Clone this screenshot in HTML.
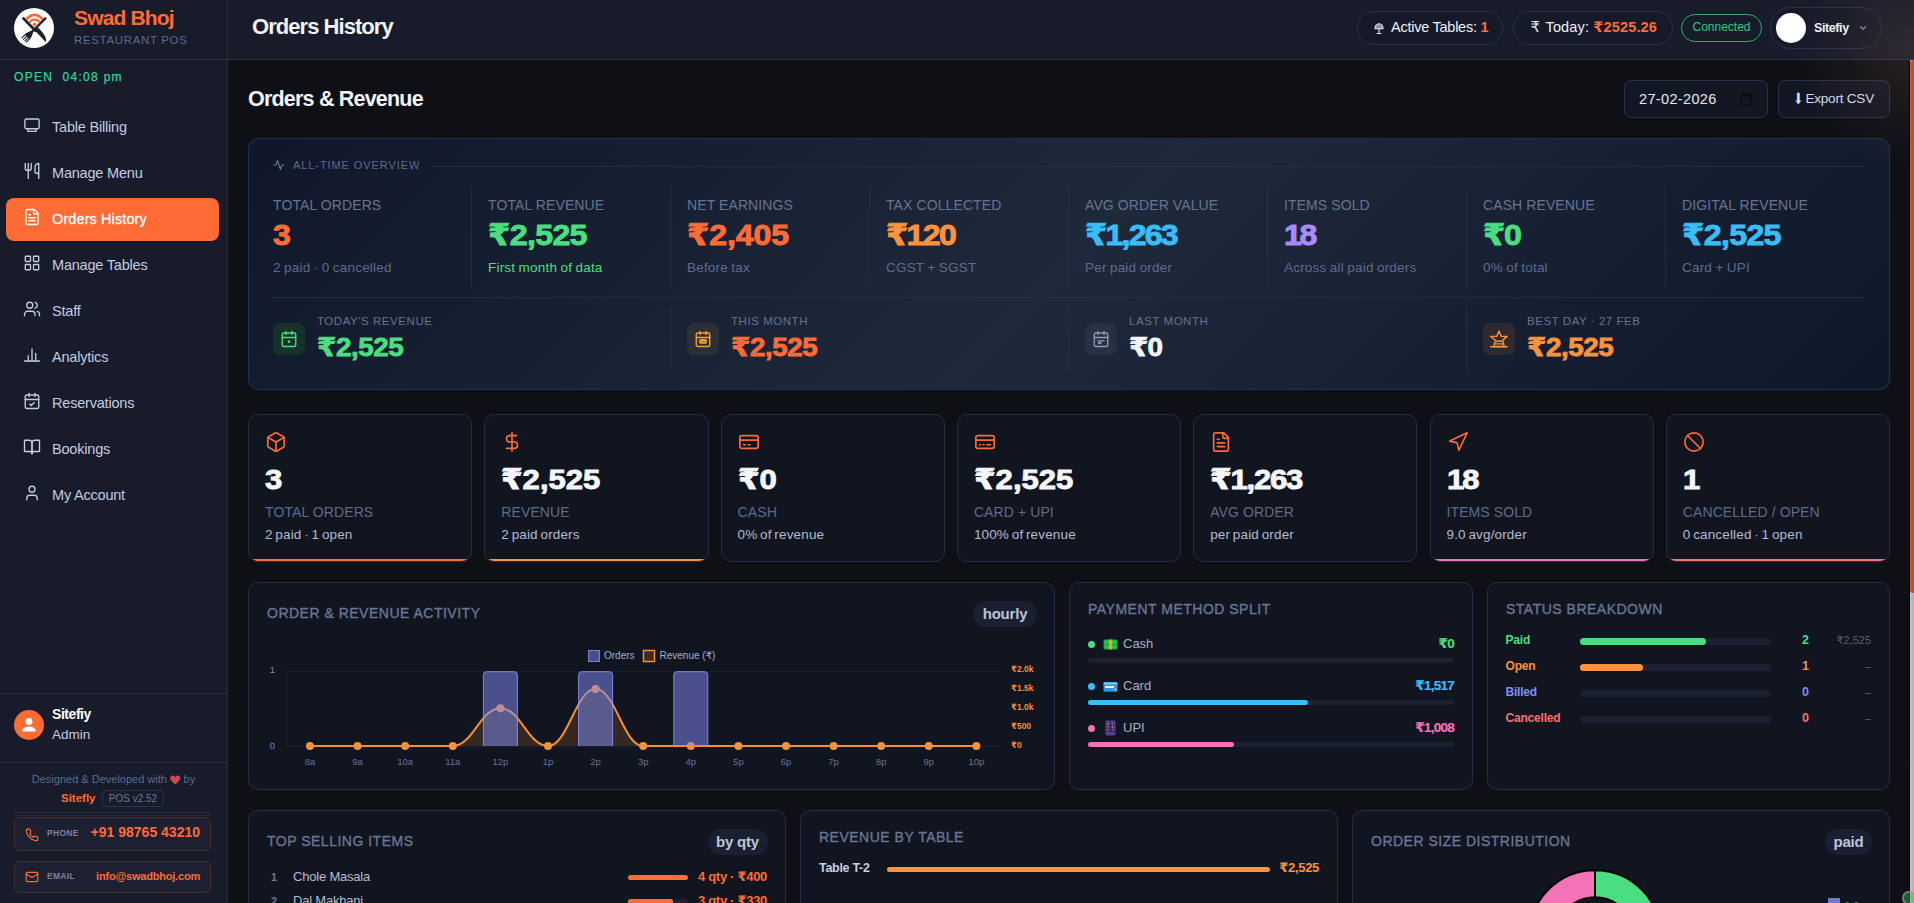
<!DOCTYPE html>
<html lang="en">
<head>
<meta charset="utf-8">
<title>Swad Bhoj - Orders History</title>
<style>
*{box-sizing:border-box;margin:0;padding:0}
html,body{width:1914px;height:903px;overflow:hidden;background:#0e1016}
body{font-family:"Liberation Sans","DejaVu Sans",sans-serif;color:#e8ecf6;position:relative;-webkit-font-smoothing:antialiased}
.abs{position:absolute}
svg{display:block}
/* ---------- sidebar ---------- */
#side{position:absolute;left:0;top:0;width:228px;height:903px;background:#171b2a;border-right:1px solid #262d45}
#brand{position:absolute;left:0;top:0;width:227px;height:60px;border-bottom:1px solid #262d45}
#logo{position:absolute;left:14px;top:7.7px;width:40px;height:40px;border-radius:50%;background:#fff}
#bname{position:absolute;left:74px;top:6px;font-size:21px;font-weight:700;color:#ff6b35;letter-spacing:-.85px;white-space:nowrap;line-height:24px}
#bsub{position:absolute;left:74px;top:33px;font-size:11.5px;color:#5f6b8c;letter-spacing:.65px;white-space:nowrap;line-height:14px}
#open{position:absolute;left:14px;top:70px;font-size:12px;color:#34d399;letter-spacing:1.3px;-webkit-text-stroke:.25px #34d399;white-space:nowrap;line-height:14px}
.nav{position:absolute;left:6px;width:213px;height:43px;border-radius:8px;color:#c5cbe0;font-size:14.5px;line-height:43px;white-space:nowrap;letter-spacing:-.2px}
.nav span{position:absolute;left:46px;top:0}
.nav svg{position:absolute;left:17px;top:10px;width:18px;height:18px;fill:none;stroke:#c5cbe0;stroke-width:1.8;stroke-linecap:round;stroke-linejoin:round}
.nav.on{background:#ff6b35;color:#fff;-webkit-text-stroke:.3px #fff;letter-spacing:.1px}
.nav.on svg{stroke:#fff}
#userbox{position:absolute;left:0;top:693px;width:227px;height:70px;border-top:1px solid #262d45;border-bottom:1px solid #262d45}
#uav{position:absolute;left:14px;top:16px;width:30px;height:30px;border-radius:50%;background:#ff6b35}
#uname{position:absolute;left:52px;top:11px;font-size:14px;font-weight:700;color:#fff;line-height:18px;letter-spacing:-.45px}
#urole{position:absolute;left:52px;top:32px;font-size:13.5px;color:#c5cbe0;line-height:18px}
#credit{position:absolute;left:0;top:772px;width:227px;text-align:center;font-size:11px;color:#5f6b8c;line-height:14px;white-space:nowrap}
#credit2{position:absolute;left:61px;top:790px;font-size:11.5px;font-weight:700;color:#ff6b35;line-height:16px}
#ver{position:absolute;left:102px;top:790px;width:62px;height:17px;border:1px solid #2b3350;border-radius:4px;font-size:10px;color:#6b7799;text-align:center;line-height:15px}
#cline{position:absolute;left:14px;top:812px;width:197px;height:1px;background:#262d45}
.cbox{position:absolute;left:14px;width:197px;height:32px;border:1px solid #4a2f2c;border-radius:6px;background:#1d2030}
.cbox svg{position:absolute;left:10px;top:10px;width:14px;height:14px;fill:none;stroke:#ff6b35;stroke-width:2;stroke-linecap:round;stroke-linejoin:round}
.cbox .k{position:absolute;left:32px;top:0;font-size:8.5px;font-weight:700;color:#7a849f;letter-spacing:.3px;line-height:30px}
.cbox .v{position:absolute;right:10px;top:0;font-weight:700;color:#ff6b35;line-height:30px;white-space:nowrap}
/* ---------- header ---------- */
#head{position:absolute;left:228px;top:0;width:1686px;height:60px;background:#171b2a;border-bottom:1px solid #262d45}
#htitle{position:absolute;left:24px;top:13px;font-size:22px;font-weight:700;color:#f1f4fb;letter-spacing:-.95px;line-height:28px;white-space:nowrap}
.pill{position:absolute;border:1px solid #2a3149;border-radius:20px;background:#161a28;white-space:nowrap}

/* ---------- header pills ---------- */
.pill .t{position:absolute;top:0;font-size:14.5px;color:#eef1f8;line-height:30px}
.pill b{color:#ff6b35}
#conn{position:absolute;left:1453px;top:14px;width:81px;height:28px;border:1.5px solid #2fa968;border-radius:14px;color:#34c77b;font-size:12px;text-align:center;line-height:25px}
/* ---------- main ---------- */
#ptitle{position:absolute;left:248px;top:85.700px;font-size:21.500px;font-weight:700;color:#f1f4fb;letter-spacing:-.8px;line-height:26px;white-space:nowrap}
.btn{position:absolute;top:80px;height:38px;border:1px solid #2a3149;border-radius:7px;background:#131724;color:#d5daea;font-size:13px;line-height:36px;white-space:nowrap}
.panel{position:absolute;background:#111520;border:1px solid #262d46;border-radius:10px}
#ov{left:248px;top:138px;width:1642px;height:252px;background:linear-gradient(135deg,#10172a 0%,#1e293b 50%,#0f172a 100%);border-color:#26304b}
.lbl{position:absolute;font-size:14px;letter-spacing:.1px;color:#68748f;white-space:nowrap;line-height:16px}
.val{position:absolute;font-size:30px;font-weight:700;white-space:nowrap;line-height:34px;letter-spacing:-.6px;-webkit-text-stroke:.9px currentColor;transform:scaleX(1.07);transform-origin:0 0}
.sub{position:absolute;font-size:13.5px;color:#5f6b8a;white-space:nowrap;line-height:16px;letter-spacing:.2px;word-spacing:-.6px;margin-top:1px}
.vd{position:absolute;width:1px;background:#242d47}
.ib{position:absolute;width:32px;height:32px;border-radius:7px}
.ib svg{position:absolute;left:7px;top:7px;width:18px;height:18px;fill:none;stroke-width:1.8;stroke-linecap:round;stroke-linejoin:round}
.l2{position:absolute;font-size:11.5px;letter-spacing:.55px;color:#68748f;white-space:nowrap;line-height:14px}
.v2{position:absolute;font-size:26px;font-weight:700;white-space:nowrap;line-height:30px;letter-spacing:-.4px;-webkit-text-stroke:.8px currentColor;transform:scaleX(1.07);transform-origin:0 0}
.card{top:414px;width:224.3px;height:148px;overflow:hidden}
.card svg{position:absolute;left:16px;top:16px;width:22px;height:22px;fill:none;stroke:#ff6b35;stroke-width:1.8;stroke-linecap:round;stroke-linejoin:round}
.card .cv{position:absolute;left:16px;top:47px;font-size:28.5px;font-weight:700;color:#f4f6fb;line-height:34px;letter-spacing:0;white-space:nowrap;-webkit-text-stroke:.9px currentColor;transform:scaleX(1.09);transform-origin:0 0}
.card .cl{position:absolute;left:16px;top:89px;font-size:14px;letter-spacing:.1px;color:#5f6b8a;line-height:16px;white-space:nowrap}
.card .cs{position:absolute;left:16px;top:112px;font-size:13.5px;color:#b4bbd0;line-height:16px;white-space:nowrap;letter-spacing:.15px;word-spacing:-1.2px}
.card i{position:absolute;left:0;bottom:0;width:100%;height:2px}
.ttl{position:absolute;font-size:14px;font-weight:400;-webkit-text-stroke:.35px currentColor;letter-spacing:.5px;color:#6a7695;white-space:nowrap;line-height:18px}
.badge{position:absolute;height:26px;border-radius:13px;background:#1a2032;color:#bcc4d9;font-size:15px;font-weight:700;text-align:center;line-height:25px;letter-spacing:-.2px}

/* ---------- row 3/4 ---------- */
.ax{font-family:"Liberation Sans","DejaVu Sans",sans-serif;font-size:9.5px;fill:#6f79a8}
.pm{position:absolute;left:18px;width:366px;height:20px;margin-top:1px}
.pm .dot{position:absolute;left:0;top:6px;width:7px;height:7px;border-radius:50%}
.pm .nm{position:absolute;left:35px;top:0;font-size:13px;color:#a7afc6;line-height:18px}
.pm .am{position:absolute;right:0;top:0;font-size:13.5px;font-weight:700;line-height:18px;letter-spacing:-.75px;-webkit-text-stroke:.2px currentColor}
.trk{position:absolute;left:18px;width:366px;height:5px;border-radius:2.5px;background:#1b2032;margin-top:-.5px}
.trk i{position:absolute;left:0;top:0;height:5px;border-radius:2.5px}
.st{position:absolute;left:17.500px;width:365.500px;height:16px;font-size:12px;font-weight:700;line-height:16px}
.st .n{position:absolute;left:0;top:0;letter-spacing:-.2px}
.st .tk{position:absolute;left:74px;top:6px;width:191px;height:7px;border-radius:3.500px;background:#1b2032}
.st .tk i{position:absolute;left:0;top:0;height:7px;border-radius:3.500px}
.st .c{position:absolute;right:62px;top:0;font-size:12.500px}
.st .a{position:absolute;right:0;top:0;font-size:11px;font-weight:400;color:#545f7d}
</style>
</head>
<body>
<!-- SIDEBAR -->
<div id="side">
  <div id="brand">
    <div id="logo"><svg viewBox="0 0 40 40" width="40" height="40">
      <g fill="none" stroke="#ff6b35" stroke-linecap="butt"><path d="M12.400 11.200Q20.600 2.400 28.800 11.200" stroke-width="2.800"/><path d="M15.500 14.200Q20.600 8.800 25.700 14.200" stroke-width="2.600"/></g>
      <circle cx="20.600" cy="16.300" r="1.900" fill="#ff6b35"/>
      <g stroke="#1d2029" stroke-linecap="round" fill="none"><path d="M31.400 10.400 17.500 24.200" stroke-width="2.300"/><path d="M9.400 10.400 21.500 22.800" stroke-width="2.700"/></g>
      <path d="M19.600 21.200 31.900 34.300C32.800 30 30.300 25.300 23.300 19z" fill="#1d2029"/>
      <path d="M17.600 22.800 19 24.300C18.300 28 16.700 30.400 15.700 31.400L10.600 26.500C12 25.300 14.500 23.800 17.600 22.800z" fill="#1d2029"/>
      <g stroke="#1d2029" stroke-width="1.100" stroke-linecap="round"><path d="M10.900 26.900 7.800 29.900M12.500 28.400 9.400 31.400M14 29.900 10.900 32.900M15.300 31.100 12.200 34.100"/></g>
    </svg></div>
    <div id="bname">Swad Bhoj</div>
    <div id="bsub">RESTAURANT POS</div>
  </div>
  <div id="open">OPEN&nbsp; 04:08 pm</div>
  <div class="nav" style="top:106px"><svg viewBox="0 0 24 24"><rect x="2.5" y="4" width="19" height="13" rx="2"/><path d="M6.5 17v3.5h11V17"/></svg><span>Table Billing</span></div>
  <div class="nav" style="top:152px"><svg viewBox="0 0 24 24"><path d="M3 2v7c0 1.1.9 2 2 2h4a2 2 0 0 0 2-2V2"/><path d="M7 2v20"/><path d="M21 15V2a5 5 0 0 0-5 5v6c0 1.1.9 2 2 2h3Zm0 0v7"/></svg><span>Manage Menu</span></div>
  <div class="nav on" style="top:198px"><svg viewBox="0 0 24 24"><path d="M15 2H6a2 2 0 0 0-2 2v16a2 2 0 0 0 2 2h12a2 2 0 0 0 2-2V7Z"/><path d="M14 2v4a2 2 0 0 0 2 2h4"/><path d="M10 9H8"/><path d="M16 13H8"/><path d="M16 17H8"/></svg><span>Orders History</span></div>
  <div class="nav" style="top:244px"><svg viewBox="0 0 24 24"><rect width="7" height="7" x="3" y="3" rx="1"/><rect width="7" height="7" x="14" y="3" rx="1"/><rect width="7" height="7" x="14" y="14" rx="1"/><rect width="7" height="7" x="3" y="14" rx="1"/></svg><span>Manage Tables</span></div>
  <div class="nav" style="top:290px"><svg viewBox="0 0 24 24"><path d="M16 21v-2a4 4 0 0 0-4-4H6a4 4 0 0 0-4 4v2"/><circle cx="9" cy="7" r="4"/><path d="M22 21v-2a4 4 0 0 0-3-3.87"/><path d="M16 3.13a4 4 0 0 1 0 7.75"/></svg><span>Staff</span></div>
  <div class="nav" style="top:336px"><svg viewBox="0 0 24 24"><path d="M2 20h20"/><path d="M7 20v-7"/><path d="M12 20V4"/><path d="M17 20v-10"/></svg><span>Analytics</span></div>
  <div class="nav" style="top:382px"><svg viewBox="0 0 24 24"><path d="M8 2v4"/><path d="M16 2v4"/><rect width="18" height="18" x="3" y="4" rx="2"/><path d="M3 10h18"/><path d="m9 16 2 2 4-4"/></svg><span>Reservations</span></div>
  <div class="nav" style="top:428px"><svg viewBox="0 0 24 24"><path d="M2 3h6a4 4 0 0 1 4 4v14a3 3 0 0 0-3-3H2z"/><path d="M22 3h-6a4 4 0 0 0-4 4v14a3 3 0 0 1 3-3h7z"/></svg><span>Bookings</span></div>
  <div class="nav" style="top:474px"><svg viewBox="0 0 24 24"><path d="M19 21v-2a4 4 0 0 0-4-4H9a4 4 0 0 0-4 4v2"/><circle cx="12" cy="7" r="4"/></svg><span>My Account</span></div>
  <div id="userbox">
    <div id="uav"><svg viewBox="0 0 30 30" width="30" height="30"><circle cx="15" cy="11.5" r="3.4" fill="#fff"/><path d="M8.3 21.5c0-3.2 3-5 6.7-5s6.7 1.8 6.7 5z" fill="#fff"/></svg></div>
    <div id="uname">Sitefiy</div>
    <div id="urole">Admin</div>
  </div>
  <div id="credit">Designed &amp; Developed with <svg viewBox="0 0 24 24" width="12.500" height="12" style="display:inline-block;vertical-align:-2.500px;margin:0 -1px"><path d="M12 21C5 15 2 11.5 2 7.8 2 5 4.2 3 6.8 3 9 3 10.8 4.2 12 6c1.200-1.800 3-3 5.200-3C19.800 3 22 5 22 7.800c0 3.700-3 7.200-10 13.200z" fill="#cf4a50"/></svg> by</div>
  <div id="credit2">Sitefly</div>
  <div id="ver">POS v2.52</div>
  <div id="cline"></div>
  <div class="abs" style="left:14px;top:815px;width:197px;height:1px;background:#262c42"></div>
  <div class="cbox" style="top:816.500px;height:34.500px"><svg viewBox="0 0 24 24"><path d="M22 16.920v3a2 2 0 0 1-2.180 2 19.790 19.790 0 0 1-8.630-3.070 19.500 19.500 0 0 1-6-6 19.790 19.790 0 0 1-3.070-8.670A2 2 0 0 1 4.110 2h3a2 2 0 0 1 2 1.720c.127.960.361 1.903.700 2.810a2 2 0 0 1-.450 2.110L8.090 9.910a16 16 0 0 0 6 6l1.270-1.270a2 2 0 0 1 2.110-.450c.907.339 1.850.573 2.810.700A2 2 0 0 1 22 16.920z"/></svg><span class="k">PHONE</span><span class="v" style="font-size:14px;top:-1px">+91 98765 43210</span></div>
  <div class="cbox" style="top:861px"><svg viewBox="0 0 24 24" style="top:8px"><rect x="2" y="4" width="20" height="16" rx="2"/><path d="m22 7-10 6L2 7"/></svg><span class="k" style="top:-1px">EMAIL</span><span class="v" style="font-size:11px;letter-spacing:-.2px;top:-1px">info@swadbhoj.com</span></div>
</div>
<!-- HEADER -->
<div id="head">
  <div id="htitle">Orders History</div>
  <div class="pill" style="left:1129px;top:11px;width:146px;height:34px">
    <svg class="abs" style="left:15.500px;top:9.500px" width="10" height="12.500" viewBox="0 0 20 25" fill="none" stroke="#e6e9f2" stroke-width="2.300" stroke-linecap="round" stroke-linejoin="round"><path d="M2 13.500A8 10 0 0 1 18 13.500Z" fill="#8e93a3"/><path d="M10 14v7.500M6 23h8"/></svg>
    <span class="t" style="left:33px;letter-spacing:-.25px">Active Tables: <b>1</b></span>
  </div>
  <div class="pill" style="left:1285px;top:11px;width:160px;height:34px">
    <span class="t" style="left:16.500px;top:0;font-size:15px;color:#dfe3ee">₹</span>
    <span class="t" style="left:31.500px;letter-spacing:.15px">Today: <b>₹2525.26</b></span>
  </div>
  <div id="conn">Connected</div>
  <div class="pill" style="left:1542px;top:7px;width:112px;height:42px;border-radius:21px">
    <div class="abs" style="left:5px;top:5px;width:30px;height:30px;border-radius:50%;background:#fff"></div>
    <span class="abs" style="left:43px;top:0;font-size:12.5px;font-weight:700;color:#eef1f8;line-height:40px;letter-spacing:-.4px">Sitefiy</span>
    <svg class="abs" style="left:87px;top:15px" width="10" height="10" viewBox="0 0 24 24" fill="none" stroke="#7d87a3" stroke-width="3" stroke-linecap="round" stroke-linejoin="round"><path d="m6 9 6 6 6-6"/></svg>
  </div>
</div>
<!-- MAIN -->
<div id="main">
<div id="ptitle">Orders &amp; Revenue</div>
<div class="btn" style="left:1624px;width:144px"><span class="abs" style="left:14px;top:0;font-size:14.5px;letter-spacing:.35px;color:#e3e7f2">27-02-2026</span>
  <svg class="abs" style="left:115px;top:12px" width="12" height="13" viewBox="0 0 12 13"><rect x="0.5" y="1.5" width="11" height="11" rx="1.5" fill="#0b0d13" stroke="#0b0d13"/><rect x="1.500" y="4" width="9" height="7.500" fill="#131724"/><rect x="2.500" y="0" width="1.500" height="3" fill="#0b0d13"/><rect x="8" y="0" width="1.500" height="3" fill="#0b0d13"/></svg></div>
<div class="btn" style="left:1778px;width:112px;text-align:center;font-size:13.5px;letter-spacing:-.2px"><span style="font-size:15.500px;display:inline-block;transform:scaleX(.72);margin:0 -3px 0 -2px;vertical-align:-1px;line-height:1">⬇</span> Export CSV</div>
<div class="panel" id="ov">
<svg class="abs" style="left:24px;top:20px" width="12" height="12" viewBox="0 0 24 24" fill="none" stroke="#68748f" stroke-width="2.4" stroke-linecap="round" stroke-linejoin="round"><path d="M22 12h-4l-3 9L9 3l-3 9H2"/></svg>
<div class="abs" style="left:44px;top:19px;font-size:11px;letter-spacing:.92px;color:#5f6b8a;line-height:14px;white-space:nowrap">ALL-TIME OVERVIEW</div>
<div class="abs" style="left:182px;top:27px;width:1434px;height:1px;background:#242d47"></div>
<div class="lbl" style="left:24px;top:58px">TOTAL ORDERS</div>
<div class="val" style="left:24px;top:79px;color:#ff6b35">3</div>
<div class="sub" style="left:24px;top:120px">2 paid · 0 cancelled</div>
<div class="vd" style="left:222px;top:48px;height:100px"></div>
<div class="lbl" style="left:239px;top:58px">TOTAL REVENUE</div>
<div class="val" style="left:239px;top:79px;color:#4ade80">₹2,525</div>
<div class="sub" style="left:239px;top:120px;color:#4ade80">First month of data</div>
<div class="vd" style="left:421px;top:48px;height:100px"></div>
<div class="lbl" style="left:438px;top:58px">NET EARNINGS</div>
<div class="val" style="left:438px;top:79px;color:#ff6b35;letter-spacing:-.1px">₹2,405</div>
<div class="sub" style="left:438px;top:120px">Before tax</div>
<div class="vd" style="left:620px;top:48px;height:100px"></div>
<div class="lbl" style="left:637px;top:58px">TAX COLLECTED</div>
<div class="val" style="left:637px;top:79px;color:#fb923c;letter-spacing:-1.6px">₹120</div>
<div class="sub" style="left:637px;top:120px">CGST + SGST</div>
<div class="vd" style="left:819px;top:48px;height:100px"></div>
<div class="lbl" style="left:836px;top:58px">AVG ORDER VALUE</div>
<div class="val" style="left:836px;top:79px;color:#38bdf8;letter-spacing:-1.7px">₹1,263</div>
<div class="sub" style="left:836px;top:120px">Per paid order</div>
<div class="vd" style="left:1018px;top:48px;height:100px"></div>
<div class="lbl" style="left:1035px;top:58px">ITEMS SOLD</div>
<div class="val" style="left:1035px;top:79px;color:#a78bfa;letter-spacing:-2.2px">18</div>
<div class="sub" style="left:1035px;top:120px">Across all paid orders</div>
<div class="vd" style="left:1217px;top:48px;height:100px"></div>
<div class="lbl" style="left:1234px;top:58px">CASH REVENUE</div>
<div class="val" style="left:1234px;top:79px;color:#4ade80;letter-spacing:-1.2px">₹0</div>
<div class="sub" style="left:1234px;top:120px">0% of total</div>
<div class="vd" style="left:1416px;top:48px;height:100px"></div>
<div class="lbl" style="left:1433px;top:58px">DIGITAL REVENUE</div>
<div class="val" style="left:1433px;top:79px;color:#38bdf8">₹2,525</div>
<div class="sub" style="left:1433px;top:120px">Card + UPI</div>
<div class="abs" style="left:24px;top:158px;width:1592px;height:1px;background:#242d47"></div>
<div class="ib" style="left:24px;top:184px;background:#173229"><svg viewBox="0 0 24 24" stroke="#4ade80"><path d="M8 2v4"/><path d="M16 2v4"/><rect width="18" height="18" x="3" y="4" rx="2"/><path d="M3 10h18"/><circle cx="12" cy="15.500" r=".8" fill="#4ade80"/></svg></div>
<div class="l2" style="left:68px;top:175px">TODAY'S REVENUE</div>
<div class="v2" style="left:68px;top:193px;color:#4ade80">₹2,525</div>
<div class="vd" style="left:421px;top:167px;height:66px"></div>
<div class="ib" style="left:438px;top:184px;background:#2e2f36"><svg viewBox="0 0 24 24" stroke="#f5a524"><path d="M8 2v4"/><path d="M16 2v4"/><rect width="18" height="18" x="3" y="4" rx="2"/><path d="M3 10h18"/><rect x="7.500" y="13" width="9" height="4.500" rx="2" fill="#c98a1e"/></svg></div>
<div class="l2" style="left:482px;top:175px">THIS MONTH</div>
<div class="v2" style="left:482px;top:193px;color:#ff6b35">₹2,525</div>
<div class="vd" style="left:819px;top:167px;height:66px"></div>
<div class="ib" style="left:836px;top:184px;background:#283144"><svg viewBox="0 0 24 24" stroke="#8d9ab8"><path d="M8 2v4"/><path d="M16 2v4"/><rect width="18" height="18" x="3" y="4" rx="2"/><path d="M3 10h18"/><path d="M8 14.500h8"/><path d="M8 17.300h4.500" stroke-width="2.600" stroke-linecap="butt"/></svg></div>
<div class="l2" style="left:880px;top:175px">LAST MONTH</div>
<div class="v2" style="left:880px;top:193px;color:#f1f4fb;letter-spacing:-.9px">₹0</div>
<div class="vd" style="left:1217px;top:167px;height:66px"></div>
<div class="ib" style="left:1234px;top:184px;background:#2e2a2f"><svg viewBox="0 0 24 24" stroke="#fb923c"><path d="M12 1.500 15 8.500H23L17 13.500 19 22H5L7 13.500 1 8.500H9Z"/><path d="M8.200 15h7.600M7.200 18.500h9.600M1 22.300H23"/></svg></div>
<div class="l2" style="left:1278px;top:175px">BEST DAY · 27 FEB</div>
<div class="v2" style="left:1278px;top:193px;color:#fb923c">₹2,525</div>
</div>
<div class="panel card" style="left:248.00px"><svg viewBox="0 0 24 24"><path d="M21 8a2 2 0 0 0-1-1.730l-7-4a2 2 0 0 0-2 0l-7 4A2 2 0 0 0 3 8v8a2 2 0 0 0 1 1.730l7 4a2 2 0 0 0 2 0l7-4A2 2 0 0 0 21 16Z"/><path d="m3.300 7 8.700 5 8.700-5"/><path d="M12 22V12"/></svg><div class="cv">3</div><div class="cl">TOTAL ORDERS</div><div class="cs">2 paid · 1 open</div><i style="background:#ff6b35"></i></div>
<div class="panel card" style="left:484.30px"><svg viewBox="0 0 24 24"><path d="M12 2v20"/><path d="M17 5H9.500a3.500 3.500 0 0 0 0 7h5a3.500 3.500 0 0 1 0 7H6"/></svg><div class="cv">₹2,525</div><div class="cl">REVENUE</div><div class="cs">2 paid orders</div><i style="background:#fb923c"></i></div>
<div class="panel card" style="left:720.60px"><svg viewBox="0 0 24 24"><rect x="2" y="5" width="20" height="14" rx="2"/><path d="M2 10h20"/><path d="M6 15h2M11 15h2"/></svg><div class="cv">₹0</div><div class="cl">CASH</div><div class="cs">0% of revenue</div></div>
<div class="panel card" style="left:956.90px"><svg viewBox="0 0 24 24"><rect x="2" y="5" width="20" height="14" rx="2"/><path d="M2 10h20"/><path d="M6 15h1M10 15h1M14 15h4"/></svg><div class="cv">₹2,525</div><div class="cl">CARD + UPI</div><div class="cs">100% of revenue</div></div>
<div class="panel card" style="left:1193.20px"><svg viewBox="0 0 24 24"><path d="M15 2H6a2 2 0 0 0-2 2v16a2 2 0 0 0 2 2h12a2 2 0 0 0 2-2V7Z"/><path d="M14 2v4a2 2 0 0 0 2 2h4"/><path d="M10 9H8"/><path d="M16 13H8"/><path d="M16 17H8"/></svg><div class="cv" style="letter-spacing:-1.1px">₹1,263</div><div class="cl">AVG ORDER</div><div class="cs">per paid order</div></div>
<div class="panel card" style="left:1429.50px"><svg viewBox="0 0 24 24"><path d="M3 11 22 2l-9 19-2-8-8-2z"/></svg><div class="cv" style="letter-spacing:-1.8px">18</div><div class="cl">ITEMS SOLD</div><div class="cs">9.0 avg/order</div><i style="background:#f472b6"></i></div>
<div class="panel card" style="left:1665.80px"><svg viewBox="0 0 24 24"><circle cx="12" cy="12" r="10"/><path d="m4.900 4.900 14.200 14.200"/></svg><div class="cv">1</div><div class="cl">CANCELLED / OPEN</div><div class="cs">0 cancelled · 1 open</div><i style="background:#f87171"></i></div>
<div class="panel" style="left:248px;top:582px;width:807px;height:208px">
<div class="ttl" style="left:18px;top:21px">ORDER &amp; REVENUE ACTIVITY</div>
<div class="badge" style="left:724px;top:18px;width:64px">hourly</div>
<svg class="abs" style="left:0;top:0" width="805" height="206" viewBox="0 0 805 206">
<path d="M36 88.5H751M36 163.5H751M37.5 88V163" stroke="#1a1e2d" stroke-width="1" fill="none"/>
<rect x="339.500" y="67.500" width="11" height="11" fill="#494f8e" stroke="#7c80d8"/>
<text x="355" y="76" class="ax" style="fill:#a7afc6;font-size:10px">Orders</text>
<rect x="394.5" y="67.5" width="11" height="11" fill="#3a2a22" stroke="#f59139" stroke-width="1.5"/>
<text x="410.500" y="76" class="ax" style="fill:#a7afc6;font-size:10px">Revenue (₹)</text>
<text x="26" y="90" class="ax" text-anchor="end" style="fill:#7a83d6">1</text>
<text x="26" y="166" class="ax" text-anchor="end" style="fill:#7a83d6">0</text>
<text x="762" y="89.3" class="ax" style="fill:#f59139;font-weight:700;font-size:8.5px">₹2.0k</text>
<text x="762" y="108.3" class="ax" style="fill:#f59139;font-weight:700;font-size:8.5px">₹1.5k</text>
<text x="762" y="127.3" class="ax" style="fill:#f59139;font-weight:700;font-size:8.5px">₹1.0k</text>
<text x="762" y="146.3" class="ax" style="fill:#f59139;font-weight:700;font-size:8.5px">₹500</text>
<text x="762" y="165.3" class="ax" style="fill:#f59139;font-weight:700;font-size:8.5px">₹0</text>
<path d="M61.0 163.0L108.6 163.0L156.2 163.0L203.8 163.0C223.8 163.0 231.4 125.2 251.4 125.2C271.4 125.2 279.0 163.0 299.0 163.0C319.0 163.0 326.6 106.1 346.6 106.1C366.6 106.1 374.2 163.0 394.2 163.0L441.8 163.0L489.4 163.0L537.0 163.0L584.6 163.0L632.2 163.0L679.8 163.0L727.4 163.0L727.4 163L61.0 163Z" fill="#f59139" fill-opacity=".16"/>
<path d="M61.0 163.0L108.6 163.0L156.2 163.0L203.8 163.0C223.8 163.0 231.4 125.2 251.4 125.2C271.4 125.2 279.0 163.0 299.0 163.0C319.0 163.0 326.6 106.1 346.6 106.1C366.6 106.1 374.2 163.0 394.2 163.0L441.8 163.0L489.4 163.0L537.0 163.0L584.6 163.0L632.2 163.0L679.8 163.0L727.4 163.0" fill="none" stroke="#f59139" stroke-width="2"/>
<circle cx="61.0" cy="163.0" r="4" fill="#f59139"/>
<circle cx="108.6" cy="163.0" r="4" fill="#f59139"/>
<circle cx="156.2" cy="163.0" r="4" fill="#f59139"/>
<circle cx="203.8" cy="163.0" r="4" fill="#f59139"/>
<circle cx="251.4" cy="125.2" r="4" fill="#f59139"/>
<circle cx="299.0" cy="163.0" r="4" fill="#f59139"/>
<circle cx="346.6" cy="106.1" r="4" fill="#f59139"/>
<circle cx="394.2" cy="163.0" r="4" fill="#f59139"/>
<circle cx="441.8" cy="163.0" r="4" fill="#f59139"/>
<circle cx="489.4" cy="163.0" r="4" fill="#f59139"/>
<circle cx="537.0" cy="163.0" r="4" fill="#f59139"/>
<circle cx="584.6" cy="163.0" r="4" fill="#f59139"/>
<circle cx="632.2" cy="163.0" r="4" fill="#f59139"/>
<circle cx="679.8" cy="163.0" r="4" fill="#f59139"/>
<circle cx="727.4" cy="163.0" r="4" fill="#f59139"/>
<path d="M234.4 163V91.700q0 -3 3 -3h28q3 0 3 3V163" fill="rgba(129,140,248,.5)" stroke="rgba(140,148,250,.85)" stroke-width="1"/>
<path d="M329.6 163V91.700q0 -3 3 -3h28q3 0 3 3V163" fill="rgba(129,140,248,.5)" stroke="rgba(140,148,250,.85)" stroke-width="1"/>
<path d="M424.8 163V91.700q0 -3 3 -3h28q3 0 3 3V163" fill="rgba(129,140,248,.5)" stroke="rgba(140,148,250,.85)" stroke-width="1"/>
<text x="61.0" y="182" class="ax" text-anchor="middle" style="fill:#67739c">8a</text>
<text x="108.6" y="182" class="ax" text-anchor="middle" style="fill:#67739c">9a</text>
<text x="156.2" y="182" class="ax" text-anchor="middle" style="fill:#67739c">10a</text>
<text x="203.8" y="182" class="ax" text-anchor="middle" style="fill:#67739c">11a</text>
<text x="251.4" y="182" class="ax" text-anchor="middle" style="fill:#67739c">12p</text>
<text x="299.0" y="182" class="ax" text-anchor="middle" style="fill:#67739c">1p</text>
<text x="346.6" y="182" class="ax" text-anchor="middle" style="fill:#67739c">2p</text>
<text x="394.2" y="182" class="ax" text-anchor="middle" style="fill:#67739c">3p</text>
<text x="441.8" y="182" class="ax" text-anchor="middle" style="fill:#67739c">4p</text>
<text x="489.4" y="182" class="ax" text-anchor="middle" style="fill:#67739c">5p</text>
<text x="537.0" y="182" class="ax" text-anchor="middle" style="fill:#67739c">6p</text>
<text x="584.6" y="182" class="ax" text-anchor="middle" style="fill:#67739c">7p</text>
<text x="632.2" y="182" class="ax" text-anchor="middle" style="fill:#67739c">8p</text>
<text x="679.8" y="182" class="ax" text-anchor="middle" style="fill:#67739c">9p</text>
<text x="727.4" y="182" class="ax" text-anchor="middle" style="fill:#67739c">10p</text>
</svg>
</div>
<div class="panel" style="left:1069px;top:582px;width:404px;height:208px">
<div class="ttl" style="left:18px;top:17px">PAYMENT METHOD SPLIT</div>
<div class="pm" style="top:51px"><span class="dot" style="background:#4ade80"></span><svg class="abs" style="left:15px;top:3px" width="15" height="13" viewBox="0 0 15 13"><rect x="0.500" y="1.500" width="14" height="10" rx="1.200" fill="#1f9e3d"/><rect x="1.500" y="2.500" width="12" height="8" rx=".6" fill="#2fc452"/><circle cx="4" cy="6.500" r="1.500" fill="#1f9e3d"/><circle cx="11" cy="6.500" r="1.500" fill="#1f9e3d"/><rect x="6.400" y="1.500" width="2.200" height="10" fill="#f2b230"/></svg><span class="nm">Cash</span><span class="am" style="color:#4ade80">₹0</span></div>
<div class="trk" style="top:75.5px"></div>
<div class="pm" style="top:93px"><span class="dot" style="background:#38bdf8"></span><svg class="abs" style="left:15px;top:3px" width="15" height="13" viewBox="0 0 15 13"><rect x="0.500" y="2.200" width="14" height="9.500" rx="1.500" fill="#2f97dd"/><rect x="0.500" y="2.200" width="14" height="2.400" rx="1.200" fill="#7cc4f0"/><rect x="2" y="6" width="9" height="2" fill="#e4ecf3"/><rect x="11.500" y="8.800" width="1.800" height="1.500" fill="#f2d64b"/></svg><span class="nm">Card</span><span class="am" style="color:#38bdf8">₹1,517</span></div>
<div class="trk" style="top:117.5px"><i style="width:60.1%;background:#38bdf8"></i></div>
<div class="pm" style="top:135px"><span class="dot" style="background:#f472b6"></span><svg class="abs" style="left:17px;top:1px" width="11" height="16" viewBox="0 0 11 16"><rect x="0.500" y="0.500" width="10" height="15" rx="1.800" fill="#5b3f95"/><rect x="2" y="2.500" width="7" height="9.500" fill="#33244f"/><g fill="#e9a23b"><rect x="2.600" y="3.200" width="1.600" height="1.600"/><rect x="6.600" y="6" width="1.600" height="1.600"/></g><g fill="#5aa0e0"><rect x="6.600" y="3.200" width="1.600" height="1.600"/><rect x="2.600" y="8.800" width="1.600" height="1.600"/></g><g fill="#e05a8a"><rect x="2.600" y="6" width="1.600" height="1.600"/><rect x="6.600" y="8.800" width="1.600" height="1.600"/></g></svg><span class="nm">UPI</span><span class="am" style="color:#f472b6">₹1,008</span></div>
<div class="trk" style="top:159.5px"><i style="width:39.9%;background:#f472b6"></i></div>
</div>
<div class="panel" style="left:1487px;top:582px;width:403px;height:208px">
<div class="ttl" style="left:18px;top:17px">STATUS BREAKDOWN</div>
<div class="st" style="top:49.0px;color:#4ade80"><span class="n">Paid</span><span class="tk"><i style="width:66.3%;background:#4ade80"></i></span><span class="c">2</span><span class="a">₹2,525</span></div>
<div class="st" style="top:74.9px;color:#fb923c"><span class="n">Open</span><span class="tk"><i style="width:33%;background:#fb923c"></i></span><span class="c">1</span><span class="a">–</span></div>
<div class="st" style="top:100.8px;color:#818cf8"><span class="n">Billed</span><span class="tk"></span><span class="c">0</span><span class="a">–</span></div>
<div class="st" style="top:126.7px;color:#f87171"><span class="n">Cancelled</span><span class="tk"></span><span class="c">0</span><span class="a">–</span></div>
</div>
<div class="panel" style="left:248px;top:810px;width:538px;height:200px">
<div class="ttl" style="left:18px;top:21px">TOP SELLING ITEMS</div>
<div class="badge" style="left:458.500px;top:18px;width:60px">by qty</div>
<div class="abs" style="left:22px;top:58px;font-size:11px;font-weight:700;color:#6a7695;line-height:16px">1</div>
<div class="abs" style="left:44px;top:57px;font-size:13px;color:#b4bbd0;line-height:18px;letter-spacing:-.2px;white-space:nowrap">Chole Masala</div>
<div class="abs" style="left:379px;top:64px;width:60px;height:4.500px;border-radius:2.500px;background:#1b2032"><div style="width:100%;height:4.500px;border-radius:2.500px;background:#ff6b35"></div></div>
<div class="abs" style="right:18px;top:57px;font-size:13px;font-weight:700;color:#ff6b35;line-height:18px;letter-spacing:-.3px;white-space:nowrap">4 qty · ₹400</div>
<div class="abs" style="left:22px;top:82px;font-size:11px;font-weight:700;color:#6a7695;line-height:16px">2</div>
<div class="abs" style="left:44px;top:81px;font-size:13px;color:#b4bbd0;line-height:18px;letter-spacing:-.2px;white-space:nowrap">Dal Makhani</div>
<div class="abs" style="left:379px;top:88px;width:60px;height:4.500px;border-radius:2.500px;background:#1b2032"><div style="width:75%;height:4.500px;border-radius:2.500px;background:#ff6b35"></div></div>
<div class="abs" style="right:18px;top:81px;font-size:13px;font-weight:700;color:#ff6b35;line-height:18px;letter-spacing:-.3px;white-space:nowrap">3 qty · ₹330</div>
</div>
<div class="panel" style="left:800px;top:810px;width:538px;height:200px">
<div class="ttl" style="left:18px;top:17px">REVENUE BY TABLE</div>
<div class="abs" style="left:18px;top:48px;font-size:12.500px;font-weight:700;color:#c9cfe2;line-height:18px;letter-spacing:-.3px">Table T-2</div>
<div class="abs" style="left:86px;top:55.500px;width:383px;height:5px;border-radius:2.500px;background:#fb923c"></div>
<div class="abs" style="right:18px;top:48px;font-size:13px;font-weight:700;color:#fb923c;line-height:18px;letter-spacing:-.3px">₹2,525</div>
</div>
<div class="panel" style="left:1352px;top:810px;width:538px;height:200px">
<div class="ttl" style="left:18px;top:21px">ORDER SIZE DISTRIBUTION</div>
<div class="badge" style="left:472px;top:18px;width:47px">paid</div>
<svg class="abs" style="left:0;top:0" width="536" height="198" viewBox="0 0 536 198"><path d="M242 59.200A66 66 0 0 1 242 191.200V164.200A39 39 0 0 0 242 86.200Z" fill="#4ade80" stroke="#000" stroke-width="2"/><path d="M242 59.200A66 66 0 0 0 242 191.200V164.200A39 39 0 0 1 242 86.200Z" fill="#f472b6" stroke="#000" stroke-width="2"/><rect x="475" y="87" width="12" height="12" fill="#7478cf"/><text x="492" y="97" class="ax" style="fill:#8a93ad">1-2</text></svg>
</div>
<div class="abs" style="left:1794px;top:0;width:120px;height:170px;pointer-events:none;background:radial-gradient(circle at 100% 30%,rgba(255,160,110,.11) 0,rgba(255,160,110,.045) 40%,rgba(255,160,110,0) 70%)"></div>
<div class="abs" style="left:1909px;top:60px;width:1px;height:843px;background:#05080d"></div>
<div class="abs" style="left:1910px;top:60px;width:4px;height:843px;background:linear-gradient(90deg,#c6c6c6,#adadad)"></div>
<div class="abs" style="left:1910px;top:60px;width:4px;height:533px;background:linear-gradient(90deg,#cf5a2b,#b84f26);border-radius:3px 0 0 3px"></div>
<div class="abs" style="left:1902px;top:891px;width:13.600px;height:13.600px;border-radius:50%;background:rgba(30,194,78,.45);background-clip:padding-box;border:2px solid rgba(150,150,150,.8)"></div>
</div>
</body>
</html>
